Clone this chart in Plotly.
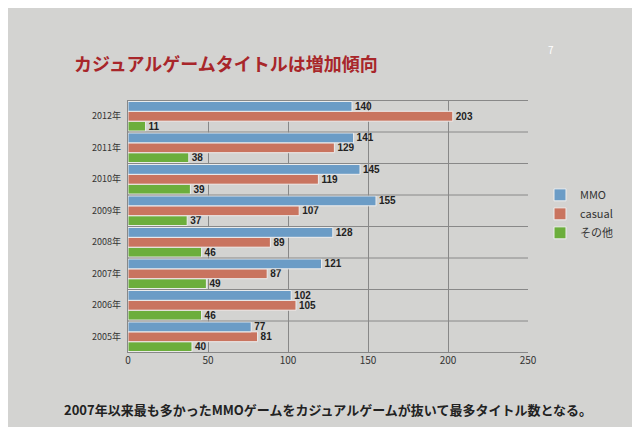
import plotly.graph_objects as go

years = ["2005年","2006年","2007年","2008年","2009年","2010年","2011年","2012年"]
mmo = [77,102,121,128,155,145,141,140]
casual = [81,105,87,89,107,119,129,203]
other = [40,46,49,46,37,39,38,11]
x_ticks = [0,50,100,150,200,250]

fig = go.Figure()
txtfont = dict(family="Liberation Sans", size=10, color="#222", weight="bold")
for name, vals, col, rank in [("その他", other, "#6cae3c", 3), ("casual", casual, "#c9745f", 2), ("MMO", mmo, "#6b9cc6", 1)]:
    fig.add_trace(go.Bar(y=years, x=vals, name=name, orientation="h", marker=dict(color=col, line=dict(color="#eeeeee", width=1)),
                         text=vals, textposition="outside", textfont=txtfont, constraintext="none", cliponaxis=False, legendrank=rank))

fig.update_layout(
    width=640, height=427, barmode="group", bargap=0.06, bargroupgap=0.0,
    paper_bgcolor="#d3d3d1", plot_bgcolor="#d3d3d1",
    margin=dict(l=120, r=120, t=92, b=82),
    font=dict(family="Noto Sans CJK JP", color="#333"),
    xaxis=dict(range=[0,250], tickvals=x_ticks, showgrid=True, gridcolor="#888", gridwidth=1, zeroline=True, zerolinecolor="#888", tickfont=dict(size=10)),
    yaxis=dict(tickfont=dict(size=9), showgrid=False, ticklabelstandoff=6),
    legend=dict(x=1.03, y=0.55, xanchor="left", yanchor="middle", font=dict(size=11), bgcolor="rgba(0,0,0,0)"),
    showlegend=True,
)
for i in range(len(years)+1):
    fig.add_shape(type="line", xref="paper", yref="y", x0=0, x1=1, y0=i-0.5, y1=i-0.5, line=dict(color="#888", width=1))
fig.add_annotation(text="カジュアルゲームタイトルは増加傾向", xref="paper", yref="paper", x=-0.14, y=1.0, xanchor="left", yanchor="bottom",
                   yshift=22, showarrow=False, font=dict(size=18, color="#a8262a", family="Noto Sans CJK JP", weight="bold"))
fig.add_annotation(text="2007年以来最も多かったMMOゲームをカジュアルゲームが抜いて最多タイトル数となる。", xref="paper", yref="paper",
                   x=0.5, y=0, yshift=-68, showarrow=False, font=dict(size=13, color="#222", family="Noto Sans CJK JP", weight="bold"))
fig.add_annotation(text="7", xref="paper", yref="paper", x=1.07, y=1.0, yshift=60, showarrow=False, font=dict(size=10, color="#fff"))
fig.write_html("out.html")
